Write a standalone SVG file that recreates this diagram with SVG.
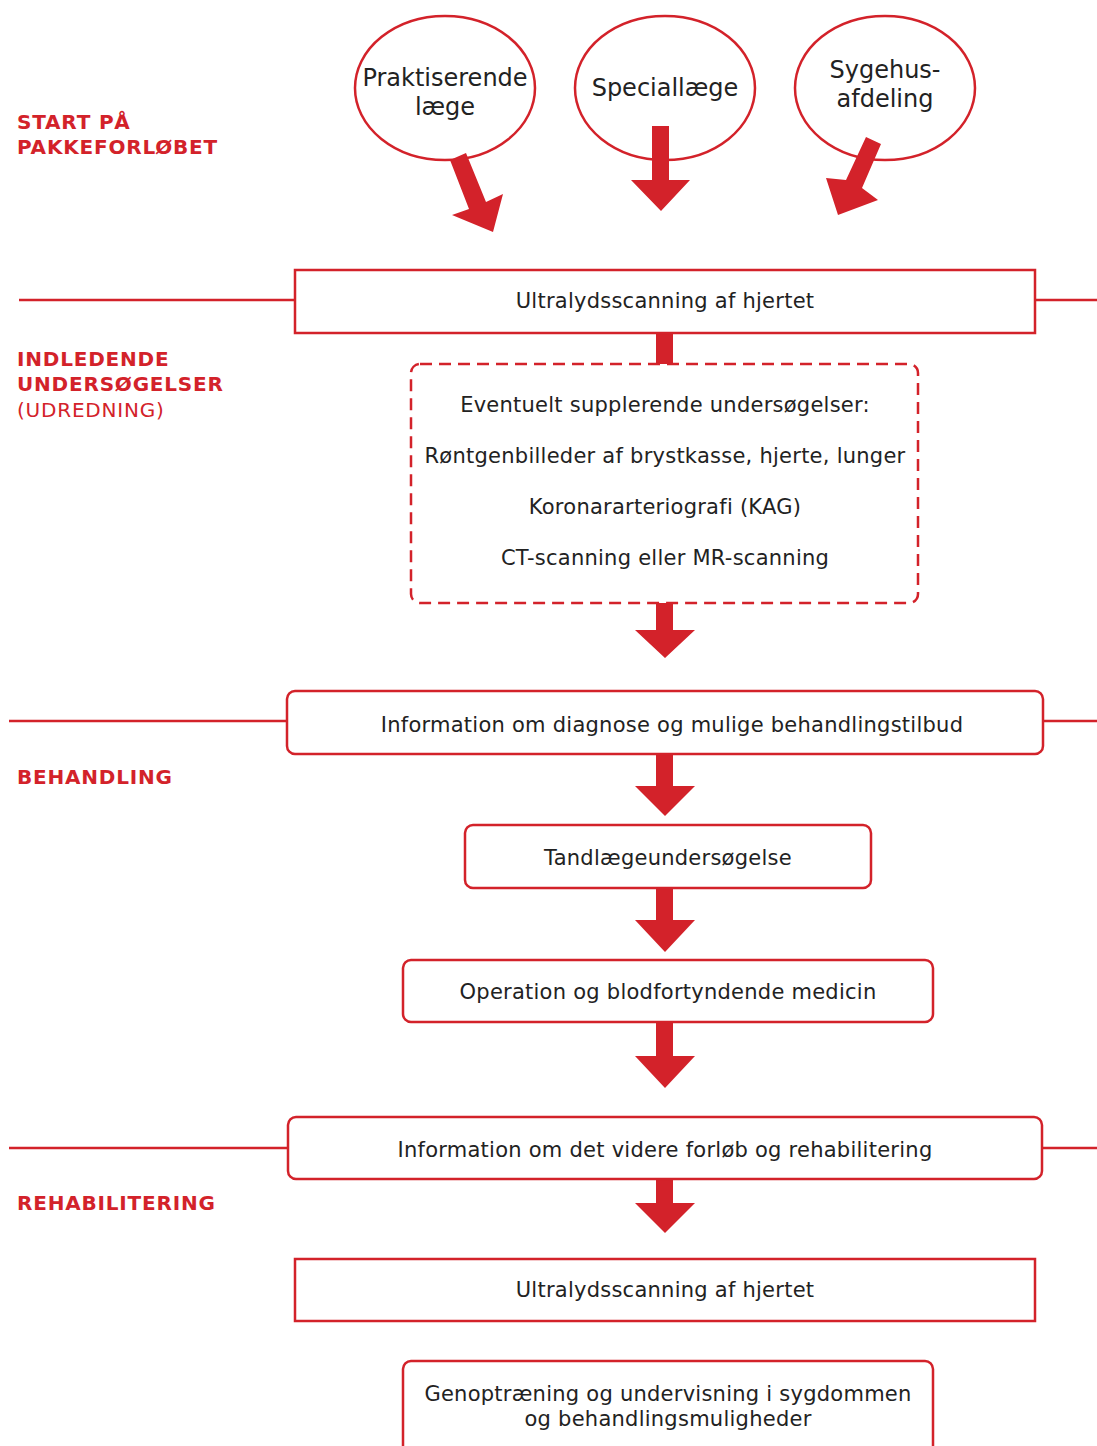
<svg xmlns="http://www.w3.org/2000/svg" width="1097" height="1446" viewBox="0 0 1097 1446">
<style>
.box{fill:#fff;stroke:#d3222a;stroke-width:2.5}
.dash{fill:#fff;stroke:#d3222a;stroke-width:2.5;stroke-dasharray:12 7}
.sep{stroke:#d3222a;stroke-width:2.5;fill:none}
.arr{fill:#d3222a}
.t{font-family:"DejaVu Sans","Liberation Sans",sans-serif;font-size:21px;letter-spacing:0.25px;fill:#222;text-anchor:middle}
.c{font-family:"DejaVu Sans","Liberation Sans",sans-serif;font-size:24px;fill:#222;text-anchor:middle}
.lb{font-family:"DejaVu Sans","Liberation Sans",sans-serif;font-size:20px;letter-spacing:0.8px;font-weight:bold;fill:#d3222a}
.ln{font-family:"DejaVu Sans","Liberation Sans",sans-serif;font-size:20px;letter-spacing:0.8px;fill:#d3222a}
</style>
<rect width="1097" height="1446" fill="#fff"/>
<g id="labels">
<text class="lb" x="17" y="129">START PÅ</text>
<text class="lb" x="17" y="154">PAKKEFORLØBET</text>
<text class="lb" x="17" y="366">INDLEDENDE</text>
<text class="lb" x="17" y="391">UNDERSØGELSER</text>
<text class="ln" x="17" y="417">(UDREDNING)</text>
<text class="lb" x="17" y="784">BEHANDLING</text>
<text class="lb" x="17" y="1210">REHABILITERING</text>
</g>
<g id="separators">
<line class="sep" x1="19" y1="300" x2="295" y2="300"/>
<line class="sep" x1="1035" y1="300" x2="1097" y2="300"/>
<line class="sep" x1="9" y1="721" x2="287" y2="721"/>
<line class="sep" x1="1043" y1="721" x2="1097" y2="721"/>
<line class="sep" x1="9" y1="1148" x2="288" y2="1148"/>
<line class="sep" x1="1042" y1="1148" x2="1097" y2="1148"/>
</g>
<g id="n-praktiserende">
<ellipse class="box" cx="445" cy="88" rx="90" ry="72"/>
<text class="c" x="445" y="86">Praktiserende</text>
<text class="c" x="445" y="115">læge</text>
</g>
<g id="n-speciallaege">
<ellipse class="box" cx="665" cy="88" rx="90" ry="72"/>
<text class="c" x="665" y="96">Speciallæge</text>
</g>
<g id="n-sygehus">
<ellipse class="box" cx="885" cy="88" rx="90" ry="72"/>
<text class="c" x="885" y="78">Sygehus-</text>
<text class="c" x="885" y="107">afdeling</text>
</g>
<g id="connectors">
<polygon class="arr" points="450,160 466,153 486,202 503,194 493,232 452,215 469,209"/>
<polygon class="arr" points="652,126 669,126 669,180 690,180 661,211 631,180 652,180"/>
<polygon class="arr" points="866,137 881,144 862,188 878,200 838,215 826,178 846,180"/>
<rect class="arr" x="656" y="333" width="17" height="31"/>
<polygon class="arr" points="656,603 673,603 673,630 695,630 665,658 635,630 656,630"/>
<polygon class="arr" points="656,754 673,754 673,786 695,786 665,816 635,786 656,786"/>
<polygon class="arr" points="656,888 673,888 673,920 695,920 665,952 635,920 656,920"/>
<polygon class="arr" points="656,1022 673,1022 673,1056 695,1056 665,1088 635,1056 656,1056"/>
<polygon class="arr" points="656,1179 673,1179 673,1203 695,1203 665,1233 635,1203 656,1203"/>
</g>
<g id="n-ultralyd1">
<rect class="box" x="295" y="270" width="740" height="63"/>
<text class="t" x="665" y="308">Ultralydsscanning af hjertet</text>
</g>
<g id="n-supplerende">
<rect class="dash" x="411" y="364" width="507" height="239" rx="9"/>
<text class="t" x="665" y="412">Eventuelt supplerende undersøgelser:</text>
<text class="t" x="665" y="463">Røntgenbilleder af brystkasse, hjerte, lunger</text>
<text class="t" x="665" y="514">Koronararteriografi (KAG)</text>
<text class="t" x="665" y="565">CT-scanning eller MR-scanning</text>
</g>
<g id="n-information1">
<rect class="box" x="287" y="691" width="756" height="63" rx="8"/>
<text class="t" x="672" y="732">Information om diagnose og mulige behandlingstilbud</text>
</g>
<g id="n-tandlaege">
<rect class="box" x="465" y="825" width="406" height="63" rx="8"/>
<text class="t" x="668" y="865">Tandlægeundersøgelse</text>
</g>
<g id="n-operation">
<rect class="box" x="403" y="960" width="530" height="62" rx="8"/>
<text class="t" x="668" y="999">Operation og blodfortyndende medicin</text>
</g>
<g id="n-information2">
<rect class="box" x="288" y="1117" width="754" height="62" rx="8"/>
<text class="t" x="665" y="1157">Information om det videre forløb og rehabilitering</text>
</g>
<g id="n-ultralyd2">
<rect class="box" x="295" y="1259" width="740" height="62"/>
<text class="t" x="665" y="1297">Ultralydsscanning af hjertet</text>
</g>
<g id="n-genoptraening">
<rect class="box" x="403" y="1361" width="530" height="100" rx="8"/>
<text class="t" x="668" y="1401">Genoptræning og undervisning i sygdommen</text>
<text class="t" x="668" y="1426">og behandlingsmuligheder</text>
</g>
</svg>
